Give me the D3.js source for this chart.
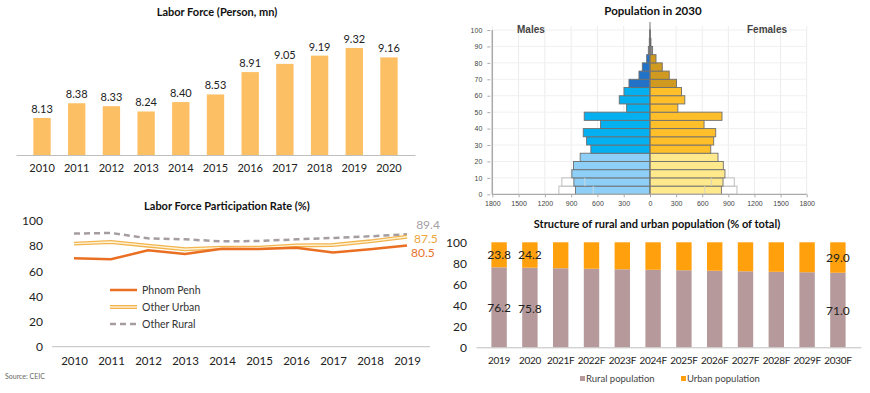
<!DOCTYPE html>
<html>
<head>
<meta charset="utf-8">
<script src="https://cdn.jsdelivr.net/npm/d3@7"></script>
<style>
  body { margin: 0; background: #fff; }
  svg { display: block; font-family: Lato, "Open Sans", sans-serif; }
  .title { font-weight: bold; font-size: 11px; fill: #111; text-anchor: middle; }
  .pyr text { font-family: "Liberation Sans", Arial, sans-serif; }
</style>
</head>
<body>
<script>
// ---- data ----
var lfYears = ["2010","2011","2012","2013","2014","2015","2016","2017","2018","2019","2020"];
var lfValues = [8.13, 8.38, 8.33, 8.24, 8.40, 8.53, 8.91, 9.05, 9.19, 9.32, 9.16];

var rateYears = ["2010","2011","2012","2013","2014","2015","2016","2017","2018","2019"];
var phnomPenh = [70.3, 69.5, 76.7, 73.7, 78.0, 77.7, 78.8, 75.0, 77.5, 80.5];
var otherUrban = [82.0, 83.3, 80.4, 77.5, 78.8, 78.8, 80.6, 80.9, 83.8, 87.5];
var otherRural = [90.0, 90.5, 86.2, 85.4, 83.8, 84.1, 85.4, 86.5, 87.8, 89.4];

// age groups 0-4 ... 95-99 (thousands)
var ageStarts = d3.range(0, 100, 5);
var males =   [850, 869, 892, 873, 797, 675, 724, 762, 564, 751, 267, 351, 297, 240, 126, 88, 38, 19, 8, 2];
var females = [820, 839, 861, 842, 781, 698, 732, 755, 621, 827, 320, 400, 362, 305, 221, 141, 69, 30, 11, 3];
var malesOutline =   [1040, 1006];
var femalesOutline = [999, 968];
var malesInner =   [648, 743];
var femalesInner = [629, 705];

var structYears = ["2019","2020","2021F","2022F","2023F","2024F","2025F","2026F","2027F","2028F","2029F","2030F"];
var rural = [76.2, 75.8, 75.3, 74.8, 74.3, 73.8, 73.4, 72.9, 72.4, 71.9, 71.5, 71.0];
var structLabelled = ["2019", "2020", "2030F"];

var svg = d3.select("body").append("svg")
  .attr("width", 870)
  .attr("height", 393);

// ================= Labor Force bars =================
var lf = svg.append("g");
lf.append("text").attr("class", "title").attr("x", 217).attr("y", 16).text("Labor Force (Person, mn)");

var xLf = d3.scaleBand().domain(lfYears).range([16, 415]).padding(0.5);
var yLf = d3.scaleLinear().domain([7.5, 9.5]).range([155, 37.4]);

lf.selectAll("rect")
  .data(lfValues)
  .enter()
  .append("rect")
  .attr("x", function(d, i) { return xLf(lfYears[i]) })
  .attr("y", function(d) { return yLf(d) })
  .attr("width", xLf.bandwidth())
  .attr("height", function(d) { return yLf(7.5) - yLf(d) })
  .attr("fill", "#fdbf63");

lf.selectAll(".vlab")
  .data(lfValues)
  .enter()
  .append("text")
  .attr("class", "vlab")
  .attr("x", function(d, i) { return xLf(lfYears[i]) + xLf.bandwidth() / 2 })
  .attr("y", function(d) { return yLf(d) - 5 })
  .attr("text-anchor", "middle")
  .style("font-size", "11px")
  .style("fill", "#222")
  .text(function(d) { return d.toFixed(2) });

var lfAxis = lf.append("g")
  .attr("transform", "translate(0,155)")
  .call(d3.axisBottom(xLf).tickSize(0).tickPadding(9));
lfAxis.select(".domain").attr("stroke", "#bfbfbf");
lfAxis.selectAll("text").style("font-size", "11px").style("fill", "#222").style("font-family", "Lato, sans-serif");

// ================= Participation rate lines =================
var lr = svg.append("g");
lr.append("text").attr("class", "title").attr("x", 227).attr("y", 210).text("Labor Force Participation Rate (%)");

var xR = d3.scalePoint().domain(rateYears).range([74, 407]);
var yR = d3.scaleLinear().domain([0, 100]).range([346.7, 221]);

var yRAxis = lr.append("g")
  .attr("transform", "translate(43,0)")
  .call(d3.axisLeft(yR).tickValues([0, 20, 40, 60, 80, 100]).tickSize(0).tickPadding(0));
yRAxis.select(".domain").remove();
yRAxis.selectAll("text").style("font-size", "12px").style("fill", "#222").style("font-family", "Lato, sans-serif");

lr.append("line")
  .attr("x1", 52).attr("x2", 430)
  .attr("y1", yR(0)).attr("y2", yR(0))
  .attr("stroke", "#bfbfbf");

var xRAxis = lr.append("g")
  .attr("transform", "translate(0," + yR(0) + ")")
  .call(d3.axisBottom(xR).tickSize(0).tickPadding(10));
xRAxis.select(".domain").remove();
xRAxis.selectAll("text").style("font-size", "11.5px").style("fill", "#222").style("font-family", "Lato, sans-serif");

var rateLine = d3.line()
  .x(function(d, i) { return xR(rateYears[i]) })
  .y(function(d) { return yR(d) });

lr.append("path").datum(otherRural).attr("d", rateLine)
  .attr("fill", "none").attr("stroke", "#a59da1").attr("stroke-width", 2.5).attr("stroke-dasharray", "6,4");
lr.append("path").datum(otherUrban).attr("d", rateLine)
  .attr("fill", "none").attr("stroke", "#f2b44e").attr("stroke-width", 4);
lr.append("path").datum(otherUrban).attr("d", rateLine)
  .attr("fill", "none").attr("stroke", "#fff3d6").attr("stroke-width", 1.4);
lr.append("path").datum(phnomPenh).attr("d", rateLine)
  .attr("fill", "none").attr("stroke", "#ea6f22").attr("stroke-width", 2.5);

var endX = xR("2019");
lr.append("text").attr("x", endX + 21).attr("y", 229).attr("text-anchor", "middle")
  .style("font-size", "12px").style("fill", "#a6a0a4").text(otherRural[9].toFixed(1));
lr.append("text").attr("x", endX + 7).attr("y", 243).attr("text-anchor", "start")
  .style("font-size", "12px").style("fill", "#eba43c").text(otherUrban[9].toFixed(1));
lr.append("text").attr("x", endX + 4).attr("y", 257).attr("text-anchor", "start")
  .style("font-size", "12px").style("fill", "#e7732a").text(phnomPenh[9].toFixed(1));

var rateLegend = [
  { name: "Phnom Penh", y: 290 },
  { name: "Other Urban", y: 307 },
  { name: "Other Rural", y: 324 }
];
rateLegend.forEach(function(d, i) {
  if (i == 0) {
    lr.append("line").attr("x1", 110).attr("x2", 137).attr("y1", d.y).attr("y2", d.y)
      .attr("stroke", "#ea6f22").attr("stroke-width", 2.5);
  } else if (i == 1) {
    lr.append("line").attr("x1", 110).attr("x2", 137).attr("y1", d.y).attr("y2", d.y)
      .attr("stroke", "#f2b44e").attr("stroke-width", 4);
    lr.append("line").attr("x1", 110).attr("x2", 137).attr("y1", d.y).attr("y2", d.y)
      .attr("stroke", "#fff3d6").attr("stroke-width", 1.4);
  } else {
    lr.append("line").attr("x1", 110).attr("x2", 137).attr("y1", d.y).attr("y2", d.y)
      .attr("stroke", "#a59da1").attr("stroke-width", 2.5).attr("stroke-dasharray", "6,4");
  }
  lr.append("text").attr("x", 142).attr("y", d.y + 4)
    .style("font-size", "10.5px").style("fill", "#333").text(d.name);
});

svg.append("text").attr("x", 5).attr("y", 379)
  .style("font-size", "7px").style("fill", "#666").text("Source: CEIC");

// ================= Population pyramid =================
var pyr = svg.append("g").attr("class", "pyr");
pyr.append("text").attr("class", "title").attr("x", 653).attr("y", 15)
  .style("font-family", "Lato, sans-serif").style("font-size", "11.5px").text("Population in 2030");

var cx = 650;
var xM = d3.scaleLinear().domain([0, 1800]).range([cx, 492.3]);
var xF = d3.scaleLinear().domain([0, 1800]).range([cx, 806.7]);
var yP = d3.scaleLinear().domain([0, 100]).range([194.3, 30]);
var popTicks = d3.range(0, 1801, 300);

// grid
popTicks.forEach(function(t) {
  pyr.append("line").attr("x1", xM(t)).attr("x2", xM(t)).attr("y1", 26).attr("y2", yP(0)).attr("stroke", "#ececec");
  pyr.append("line").attr("x1", xF(t)).attr("x2", xF(t)).attr("y1", 26).attr("y2", yP(0)).attr("stroke", "#ececec");
});
d3.range(10, 101, 10).forEach(function(t) {
  pyr.append("line").attr("x1", xM(1800)).attr("x2", xF(1800)).attr("y1", yP(t)).attr("y2", yP(t)).attr("stroke", "#f0f0f0");
});

var bandH = yP(0) - yP(5);

function maleColor(a) {
  if (a < 25) return "#8dcff7";
  if (a < 65) return "#04b0ef";
  if (a < 85) return "#2272c8";
  if (a < 90) return "#8a8a8a";
  return "#333";
}
function femaleColor(a) {
  if (a < 25) return "#ffe98c";
  if (a < 65) return "#ffbf2a";
  if (a < 85) return "#d09a20";
  if (a < 90) return "#8a8a8a";
  return "#333";
}

// outline bars for youngest groups
pyr.selectAll(".mout").data(malesOutline).enter().append("rect")
  .attr("x", function(d) { return xM(d) }).attr("y", function(d, i) { return yP(ageStarts[i] + 5) })
  .attr("width", function(d) { return cx - xM(d) }).attr("height", bandH)
  .attr("fill", "#fff").attr("stroke", "#bdbdbd");
pyr.selectAll(".fout").data(femalesOutline).enter().append("rect")
  .attr("x", cx).attr("y", function(d, i) { return yP(ageStarts[i] + 5) })
  .attr("width", function(d) { return xF(d) - cx }).attr("height", bandH)
  .attr("fill", "#fff").attr("stroke", "#bdbdbd");

pyr.selectAll(".male").data(males).enter().append("rect")
  .attr("class", "male")
  .attr("x", function(d) { return xM(d) })
  .attr("y", function(d, i) { return yP(ageStarts[i] + 5) })
  .attr("width", function(d) { return cx - xM(d) })
  .attr("height", bandH)
  .attr("fill", function(d, i) { return maleColor(ageStarts[i]) })
  .attr("stroke", "#6f6f6f").attr("stroke-width", 0.9);

pyr.selectAll(".female").data(females).enter().append("rect")
  .attr("class", "female")
  .attr("x", cx)
  .attr("y", function(d, i) { return yP(ageStarts[i] + 5) })
  .attr("width", function(d) { return xF(d) - cx })
  .attr("height", bandH)
  .attr("fill", function(d, i) { return femaleColor(ageStarts[i]) })
  .attr("stroke", "#6f6f6f").attr("stroke-width", 0.9);

// faint inner marks
malesInner.forEach(function(d, i) {
  pyr.append("line").attr("x1", xM(d)).attr("x2", xM(d))
    .attr("y1", yP(ageStarts[i] + 5)).attr("y2", yP(ageStarts[i])).attr("stroke", "#c8d8e0");
});
femalesInner.forEach(function(d, i) {
  pyr.append("line").attr("x1", xF(d)).attr("x2", xF(d))
    .attr("y1", yP(ageStarts[i] + 5)).attr("y2", yP(ageStarts[i])).attr("stroke", "#d8d2b8");
});

// centre line
pyr.append("line").attr("x1", cx).attr("x2", cx).attr("y1", 22).attr("y2", yP(0)).attr("stroke", "#777");

// axes
pyr.append("line").attr("x1", xM(1800)).attr("x2", xM(1800)).attr("y1", yP(100)).attr("y2", yP(0))
  .attr("stroke", "#aaa").attr("stroke-width", 1.5);
pyr.append("line").attr("x1", xM(1800)).attr("x2", xF(1800)).attr("y1", yP(0)).attr("y2", yP(0))
  .attr("stroke", "#aaa").attr("stroke-width", 1.2);

var yPAxis = pyr.append("g")
  .attr("transform", "translate(" + (xM(1800) - 2) + ",0)")
  .call(d3.axisLeft(yP).tickValues(d3.range(0, 101, 10)).tickSize(3).tickPadding(5));
yPAxis.select(".domain").remove();
yPAxis.selectAll("line").attr("stroke", "#aaa");
yPAxis.selectAll("text").style("font-size", "7px").style("fill", "#444");

var xMAxis = pyr.append("g").attr("transform", "translate(0," + yP(0) + ")")
  .call(d3.axisBottom(xM).tickValues(popTicks).tickFormat(d3.format("d")).tickSize(3).tickPadding(4));
var xFAxis = pyr.append("g").attr("transform", "translate(0," + yP(0) + ")")
  .call(d3.axisBottom(xF).tickValues(popTicks.slice(1)).tickFormat(d3.format("d")).tickSize(3).tickPadding(4));
[xMAxis, xFAxis].forEach(function(a) {
  a.select(".domain").remove();
  a.selectAll("line").attr("stroke", "#aaa");
  a.selectAll("text").style("font-size", "7px").style("fill", "#444");
});

pyr.append("text").attr("x", 517).attr("y", 33).style("font-size", "10px").style("font-weight", "bold")
  .style("fill", "#444").text("Males");
pyr.append("text").attr("x", 747).attr("y", 33).style("font-size", "10px").style("font-weight", "bold")
  .style("fill", "#444").text("Females");

// ================= Rural / urban structure =================
var st = svg.append("g");
st.append("text").attr("class", "title").attr("x", 657).attr("y", 228)
  .text("Structure of rural and urban population (% of total)");

var xS = d3.scaleBand().domain(structYears).range([476, 861]).padding(0.5);
var yS = d3.scaleLinear().domain([0, 100]).range([347.3, 242.3]);

var ySAxis = st.append("g")
  .attr("transform", "translate(467,0)")
  .call(d3.axisLeft(yS).tickValues([0, 20, 40, 60, 80, 100]).tickSize(0).tickPadding(0));
ySAxis.select(".domain").remove();
ySAxis.selectAll("text").style("font-size", "12px").style("fill", "#222").style("font-family", "Lato, sans-serif");

st.selectAll(".rural").data(rural).enter().append("rect")
  .attr("class", "rural")
  .attr("x", function(d, i) { return xS(structYears[i]) })
  .attr("y", function(d) { return yS(d) })
  .attr("width", xS.bandwidth())
  .attr("height", function(d) { return yS(0) - yS(d) })
  .attr("fill", "#b69a9b");

st.selectAll(".urban").data(rural).enter().append("rect")
  .attr("class", "urban")
  .attr("x", function(d, i) { return xS(structYears[i]) })
  .attr("y", yS(100))
  .attr("width", xS.bandwidth())
  .attr("height", function(d) { return yS(d) - yS(100) })
  .attr("fill", "#ffa00c");

structYears.forEach(function(yr, i) {
  if (structLabelled.indexOf(yr) < 0) return;
  var mx = xS(yr) + xS.bandwidth() / 2;
  st.append("text").attr("x", mx).attr("y", (yS(100) + yS(rural[i])) / 2 + 4)
    .attr("text-anchor", "middle").style("font-size", "12px").style("fill", "#222")
    .text((100 - rural[i]).toFixed(1));
  st.append("text").attr("x", mx).attr("y", (yS(0) + yS(rural[i])) / 2 + 5)
    .attr("text-anchor", "middle").style("font-size", "12px").style("fill", "#222")
    .text(rural[i].toFixed(1));
});

var xSAxis = st.append("g")
  .attr("transform", "translate(0," + yS(0) + ")")
  .call(d3.axisBottom(xS).tickSize(0).tickPadding(10));
xSAxis.select(".domain").attr("stroke", "#bfbfbf");
xSAxis.selectAll("text").style("font-size", "10px").style("letter-spacing", "-0.3px")
  .style("fill", "#222").style("font-family", "Lato, sans-serif");

var structLegend = [
  { name: "Rural population", color: "#b69a9b", x: 580 },
  { name: "Urban population", color: "#ffa00c", x: 681 }
];
structLegend.forEach(function(d) {
  st.append("rect").attr("x", d.x).attr("y", 376).attr("width", 5).attr("height", 5).attr("fill", d.color);
  st.append("text").attr("x", d.x + 6).attr("y", 382).style("font-size", "9.5px").style("fill", "#444").text(d.name);
});
</script>
</body>
</html>
